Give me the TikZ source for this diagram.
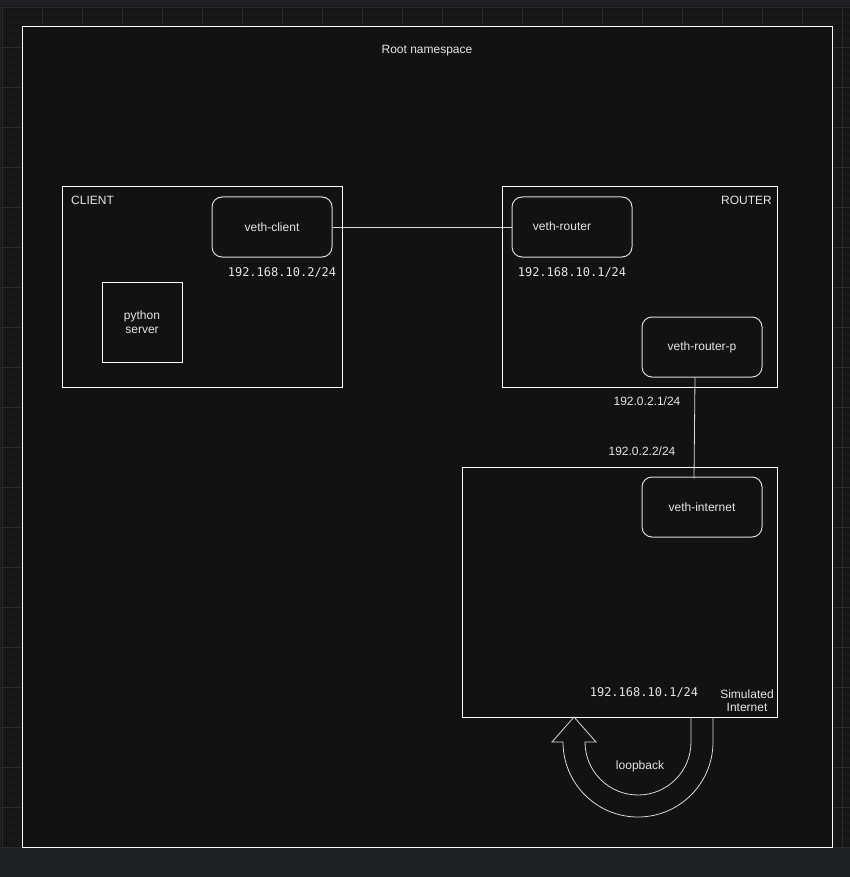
\documentclass[tikz,border=0pt]{standalone}
\usepackage{fontspec}
\setmainfont{Liberation Sans}
\newfontfamily\ipfont{DejaVu Sans Mono}
\usepackage{tikz}
\definecolor{outbg}{HTML}{1F2023}
\definecolor{gridbg}{HTML}{161616}
\definecolor{gridmin}{HTML}{1B1B1B}
\definecolor{gridmaj}{HTML}{2A2A2A}
\definecolor{nsbg}{HTML}{121212}
\definecolor{txt}{HTML}{E6E6E6}
\definecolor{ifline}{HTML}{DADADA}
\tikzset{
  box/.style = {draw=white, fill=nsbg, line width=1pt, inner sep=0pt},
  iface/.style = {box, draw=ifline, rounded corners=10pt, minimum width=120, minimum height=60},% veth ends
  lbl/.style = {text=txt, inner sep=0pt, align=center, font=\fontsize{12}{14}\selectfont},
  ipm/.style = {lbl, font=\fontsize{12}{14}\ipfont},
  link/.style = {draw=ifline, line width=0.8pt}
}

\begin{document}
\begin{tikzpicture}[x=1pt, y=-1pt]
\useasboundingbox (0,0) rectangle (850,877);
% canvas
\fill[outbg] (0,0) rectangle (850,877);
\fill[gridbg] (1,6) rectangle (850,848);
\foreach \gx in {10,18,...,850} \draw[gridmin, line width=0.8pt] (\gx,6) -- (\gx,848);
\foreach \gy in {15,23,...,847} \draw[gridmin, line width=0.8pt] (1,\gy) -- (850,\gy);
\foreach \gx in {2,42,...,842} \draw[gridmaj, line width=0.8pt] (\gx,6) -- (\gx,848);
\foreach \gy in {7,47,...,847} \draw[gridmaj, line width=0.8pt] (1,\gy) -- (850,\gy);

\node [box, minimum width=810, minimum height=820] (root) at (427,437) {};
\node [lbl] (rootlbl) at (427,51) {Root namespace};

% client side
\node [box, minimum width=280, minimum height=200] (client) at (202,287) {};
\node [lbl, anchor=west] (clientlbl) at (71,200.5) {CLIENT};
\node [iface] (vclient) at (272,227) {};
\node [lbl] at (vclient) {veth-client};
\node [ipm] (ipclient) at (282,273) {192.168.10.2/24};
\node [box, minimum width=80, minimum height=80] (pyserv) at (142,322) {};
\node [lbl] at (pyserv) {python\\server};

% router
\node [box, minimum width=275, minimum height=200] (router) at (639.5,287) {};
\node [lbl, anchor=east] (routerlbl) at (772,200.5) {ROUTER};
\node [iface] (vrouter) at (572,227) {};
\node [lbl] at (562,226) {veth-router};
\node [ipm] (iprouter) at (572,273) {192.168.10.1/24};
\node [iface] (vrouterp) at (702,347) {};
\node [lbl] at (vrouterp) {veth-router-p};
\node [lbl] (iprouterp) at (647,401) {192.0.2.1/24};
\node [lbl] (ipinet) at (642,451) {192.0.2.2/24};

% simulated internet
\node [box, minimum width=315, minimum height=250] (inet) at (619.5,592) {};
\node [lbl, font=\fontsize{12}{13.5}\selectfont] (inetlbl) at (747,700.5) {Simulated\\Internet};
\node [iface] (vinet) at (702,507) {};
\node [lbl] at (vinet) {veth-internet};
\node [ipm] (iplo) at (644,693) {192.168.10.1/24};

% links
\draw [link] (vclient.east) -- (vrouter.west);
\draw [link] ([xshift=-7pt]vrouterp.south) -- ([xshift=-8pt, yshift=-2pt]vinet.north);

% loopback arrow
\coordinate (loin) at (691,717);
\coordinate (loout) at (713,717);
\draw [ifline, line width=0.8pt] (loin) -- (691,742) arc (0:-180:53pt) -- (596,742) -- (574,717)
  -- (552,742) -- (563,742) arc (180:360:75pt) -- (loout);
\node [lbl] (lolbl) at (640,766) {loopback};
\end{tikzpicture}
\end{document}
